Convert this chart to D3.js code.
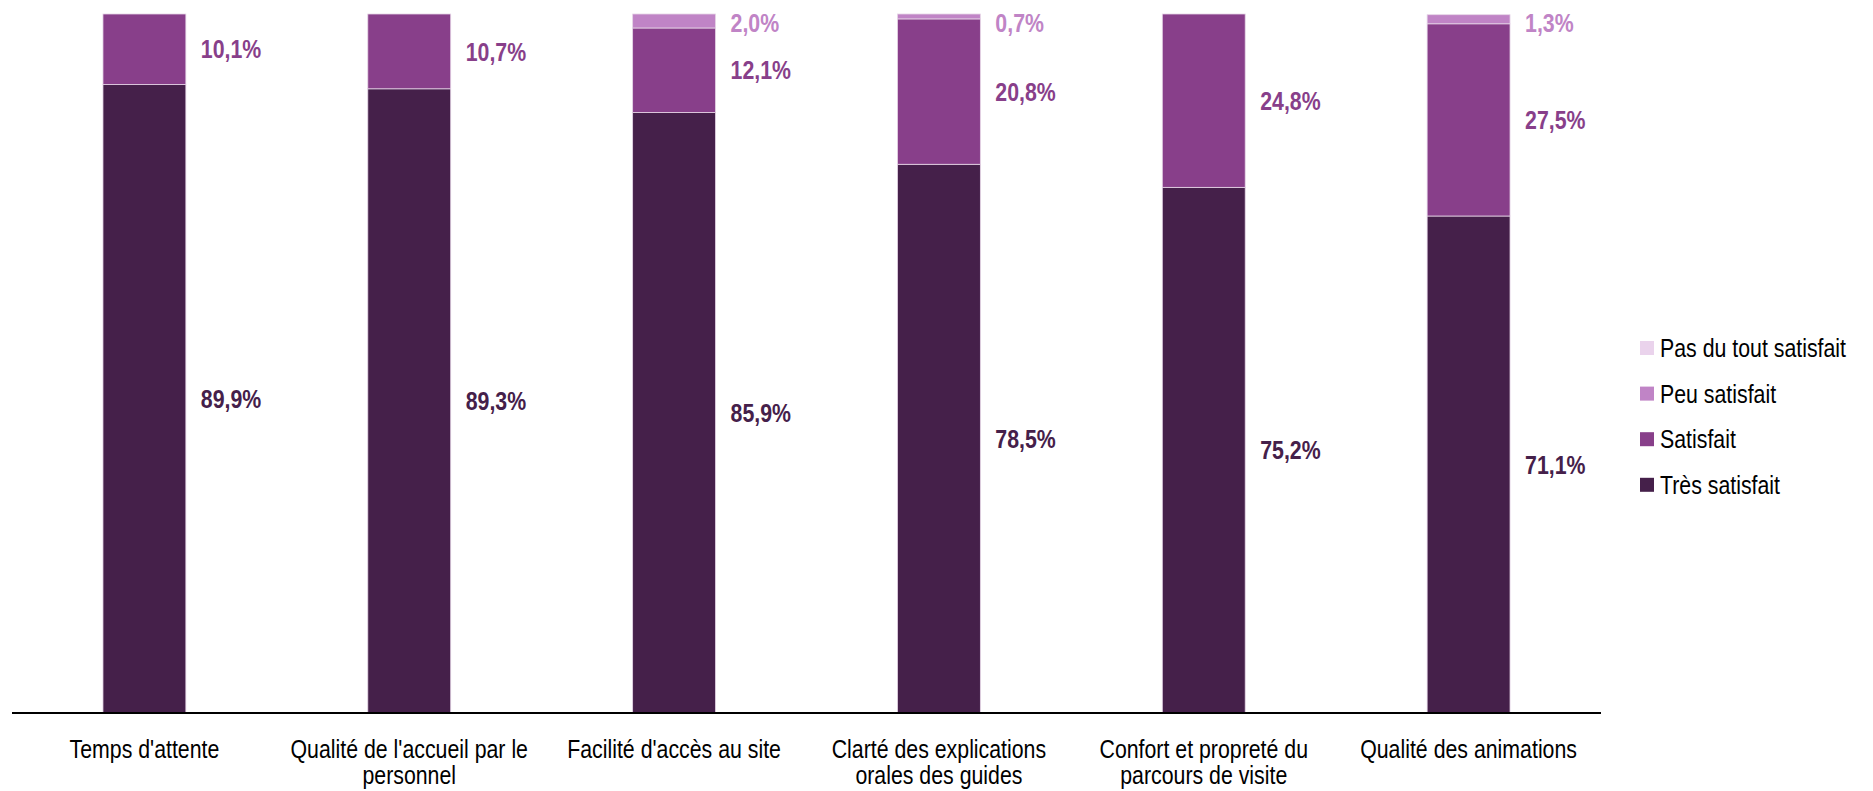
<!DOCTYPE html>
<html>
<head>
<meta charset="utf-8">
<script src="https://cdn.jsdelivr.net/npm/d3@7"></script>
<style>
  html, body { margin: 0; padding: 0; background: #ffffff; }
  svg { display: block; }
  text { font-family: "Liberation Sans Narrow", "Arial Narrow", "Liberation Sans", Arial, sans-serif; }
</style>
</head>
<body>
<div id="chart"></div>
<script>
// Categories (x axis) and stacked series, in percent
const categories = [
  "Temps d'attente",
  "Qualité de l'accueil par le personnel",
  "Facilité d'accès au site",
  "Clarté des explications orales des guides",
  "Confort et propreté du parcours de visite",
  "Qualité des animations"
];
const tresSatisfait = [89.9, 89.3, 85.9, 78.5, 75.2, 71.1];
const satisfait = [10.1, 10.7, 12.1, 20.8, 24.8, 27.5];
const peuSatisfait = [0, 0, 2.0, 0.7, 0, 1.3];
const pasDuToutSatisfait = [0, 0, 0, 0, 0, 0];

const seriesNames = ["Très satisfait", "Satisfait", "Peu satisfait", "Pas du tout satisfait"];
const seriesColors = ["#45204a", "#883f8a", "#c084c6", "#ead3ec"];

const width = 1873;
const height = 791;
const margin = { top: 14, right: 272, bottom: 78, left: 12 };
// the fonts in the source are condensed, squeeze a regular sans to match
const squeeze = 0.82;

const svg = d3.select("#chart")
  .append("svg")
  .attr("width", width)
  .attr("height", height);

// table for d3.stack
const table = categories.map((c, i) => ({
  category: c,
  "Très satisfait": tresSatisfait[i],
  "Satisfait": satisfait[i],
  "Peu satisfait": peuSatisfait[i],
  "Pas du tout satisfait": pasDuToutSatisfait[i]
}));

const stacked = d3.stack().keys(seriesNames)(table);

const x = d3.scaleBand()
  .domain(categories)
  .range([margin.left, width - margin.right])
  .paddingInner(0.687)
  .paddingOuter(0.3435);

const y = d3.scaleLinear()
  .domain([0, 100])
  .range([height - margin.bottom, margin.top]);

const color = d3.scaleOrdinal().domain(seriesNames).range(seriesColors);

// Bars
const layers = svg.append("g")
  .selectAll("g.layer")
  .data(stacked)
  .join("g")
  .attr("class", "layer")
  .attr("fill", (d) => color(d.key));

layers.selectAll("rect")
  .data((d) => d.filter((s) => s[1] - s[0] > 0))
  .join("rect")
  .attr("x", (d) => x(d.data.category))
  .attr("y", (d) => y(d[1]))
  .attr("width", x.bandwidth())
  .attr("height", (d) => y(d[0]) - y(d[1]))
  .attr("stroke", "#e6d6e7")
  .attr("stroke-width", 0.8);

// Value labels, right of each bar
const fmt = (v) => v.toFixed(1).replace(".", ",") + "%";

layers.selectAll("text")
  .data((d) => d.filter((s) => s[1] - s[0] > 0).map((s) => ({ s, key: d.key })))
  .join("text")
  .attr("transform", (d) => {
    const lx = x(d.s.data.category) + x.bandwidth() + 15;
    const ly = Math.max((y(d.s[0]) + y(d.s[1])) / 2, margin.top + 9);
    return `translate(${lx},${ly}) scale(${squeeze},1)`;
  })
  .attr("dy", "0.35em")
  .attr("fill", (d) => color(d.key))
  .attr("font-size", "26px")
  .attr("font-weight", "bold")
  .text((d) => fmt(d.s[1] - d.s[0]));

// X axis
const xAxis = svg.append("g")
  .attr("transform", `translate(0,${height - margin.bottom})`)
  .call(d3.axisBottom(x).tickSize(0).tickPadding(0));

xAxis.select(".domain")
  .attr("d", `M${margin.left},0H${width - margin.right}`)
  .attr("stroke", "#000")
  .attr("stroke-width", 2);

xAxis.selectAll(".tick text")
  .attr("font-size", "26px")
  .attr("fill", "#000")
  .attr("transform", `scale(${squeeze},1)`)
  .attr("y", 45)
  .attr("dy", 0)
  .call(wrap, (x.step() - 12) / squeeze);

function wrap(sel, maxWidth) {
  sel.each(function () {
    const t = d3.select(this);
    const words = t.text().split(/\s+/);
    const yy = t.attr("y");
    t.text(null);
    let line = [];
    let lineNo = 0;
    let tspan = t.append("tspan").attr("x", 0).attr("y", yy);
    for (const w of words) {
      line.push(w);
      tspan.text(line.join(" "));
      if (tspan.node().getComputedTextLength() > maxWidth && line.length > 1) {
        line.pop();
        tspan.text(line.join(" "));
        line = [w];
        lineNo += 1;
        tspan = t.append("tspan").attr("x", 0).attr("y", +yy + lineNo * 26.5).text(w);
      }
    }
  });
}

// Legend (top to bottom: reverse of stack order)
const legend = svg.append("g")
  .selectAll("g")
  .data(seriesNames.slice().reverse())
  .join("g")
  .attr("transform", (d, i) => `translate(1640,${348 + i * 45.6})`);

legend.append("rect")
  .attr("x", 0)
  .attr("y", -7)
  .attr("width", 14)
  .attr("height", 14)
  .attr("fill", (d) => color(d));

legend.append("text")
  .attr("transform", `translate(20,0) scale(${squeeze},1)`)
  .attr("dy", "0.35em")
  .attr("font-size", "26px")
  .attr("fill", "#000")
  .text((d) => d);
</script>
</body>
</html>
